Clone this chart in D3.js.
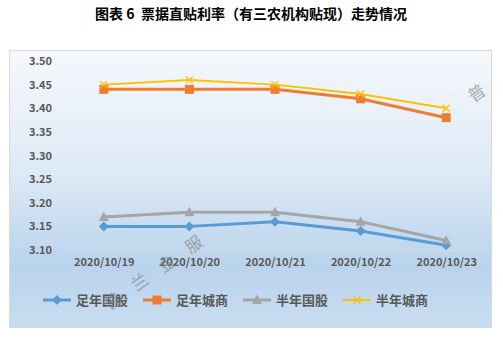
<!DOCTYPE html>
<html>
<head>
<meta charset="utf-8">
<script src="https://cdn.jsdelivr.net/npm/d3@7/dist/d3.min.js"></script>
<style>
  html, body { margin: 0; padding: 0; background: #fff; }
  svg { display: block; }
  text { font-family: "Noto Sans CJK SC", "Open Sans", sans-serif; }
</style>
</head>
<body>
<svg id="chart" width="503" height="340"></svg>
<script>
// Trading dates and discount rates (%) for each series
const dates = ["2020/10/19", "2020/10/20", "2020/10/21", "2020/10/22", "2020/10/23"];
const seriesNames = ["足年国股", "足年城商", "半年国股", "半年城商"];
const fullYearStateBank = [3.15, 3.15, 3.16, 3.14, 3.11];
const fullYearCityBank  = [3.44, 3.44, 3.44, 3.42, 3.38];
const halfYearStateBank = [3.17, 3.18, 3.18, 3.16, 3.12];
const halfYearCityBank  = [3.45, 3.46, 3.45, 3.43, 3.40];
const yTicks = [3.10, 3.15, 3.20, 3.25, 3.30, 3.35, 3.40, 3.45, 3.50];

const titleText = "图表 6  票据直贴利率（有三农机构贴现）走势情况";
const watermarkChars = ["普", "兰", "金", "服"];

const series = [
  { name: seriesNames[0], values: fullYearStateBank, color: "#5b9bd5", width: 3, marker: "diamond" },
  { name: seriesNames[1], values: fullYearCityBank,  color: "#ed7d31", width: 3, marker: "square" },
  { name: seriesNames[2], values: halfYearStateBank, color: "#a5a5a5", width: 3, marker: "triangle" },
  { name: seriesNames[3], values: halfYearCityBank,  color: "#ffc000", width: 2, marker: "cross" }
];

const svg = d3.select("#chart");

// Background gradient of the chart panel
const defs = svg.append("defs");
const grad = defs.append("linearGradient")
  .attr("id", "panelGrad").attr("x1", 0).attr("y1", 0).attr("x2", 0).attr("y2", 1);
grad.append("stop").attr("offset", "0%").attr("stop-color", "#f5f8fc");
grad.append("stop").attr("offset", "45%").attr("stop-color", "#dde9f6");
grad.append("stop").attr("offset", "78%").attr("stop-color", "#b8d3ec");
grad.append("stop").attr("offset", "100%").attr("stop-color", "#c9ddf1");

// Title
svg.append("text")
  .attr("x", 251).attr("y", 18.5)
  .attr("text-anchor", "middle")
  .attr("font-size", 14).attr("font-weight", "bold")
  .attr("fill", "#000")
  .style("white-space", "pre")
  .text(titleText);

// Chart panel
svg.append("rect")
  .attr("x", 9.5).attr("y", 50.5).attr("width", 482).attr("height", 277)
  .attr("fill", "url(#panelGrad)")
  .attr("stroke", "#d9d9d9").attr("stroke-width", 1);

// Scales
const x = d3.scalePoint().domain(dates).range([61, 489]).padding(0.5);
const y = d3.scaleLinear().domain([3.10, 3.50]).range([250, 61]);

// Y axis labels
const yAxis = d3.axisLeft(y).tickValues(yTicks).tickFormat(d3.format(".2f")).tickSize(0).tickPadding(0);
const yg = svg.append("g").attr("transform", "translate(52,0)").call(yAxis);
yg.select(".domain").remove();
yg.selectAll("text")
  .attr("font-size", 11).attr("font-weight", "bold").attr("fill", "#595959")
  .attr("font-family", "'Open Sans', 'DejaVu Sans', sans-serif");

// Category axis line
svg.append("line")
  .attr("x1", 62).attr("x2", 490)
  .attr("y1", y(3.10)).attr("y2", y(3.10))
  .attr("stroke", "#d9d9d9").attr("stroke-width", 1);

// X axis labels
const xAxis = d3.axisBottom(x).tickSize(0).tickPadding(0);
const xg = svg.append("g").attr("transform", `translate(0,${y(3.10) + 8})`).call(xAxis);
xg.select(".domain").remove();
xg.selectAll("text")
  .attr("font-size", 11).attr("font-weight", "bold").attr("fill", "#595959")
  .attr("font-family", "'Open Sans', 'DejaVu Sans', sans-serif");

// Marker drawing
function drawMarker(g, type, cx, cy, color, scale) {
  const s = scale || 1;
  if (type === "diamond") {
    const r = 5 * s;
    g.append("path").attr("d", `M${cx},${cy - r}L${cx + r},${cy}L${cx},${cy + r}L${cx - r},${cy}Z`)
      .attr("fill", color);
  } else if (type === "square") {
    const h = 4.5 * s;
    g.append("rect").attr("x", cx - h).attr("y", cy - h).attr("width", 2 * h).attr("height", 2 * h)
      .attr("fill", color);
  } else if (type === "triangle") {
    const h = 5 * s;
    g.append("path").attr("d", `M${cx},${cy - h * 1.1}L${cx + h},${cy + h * 0.8}L${cx - h},${cy + h * 0.8}Z`)
      .attr("fill", color);
  } else if (type === "cross") {
    const h = 3.5 * s;
    g.append("path").attr("d", `M${cx - h},${cy - h}L${cx + h},${cy + h}M${cx - h},${cy + h}L${cx + h},${cy - h}`)
      .attr("stroke", color).attr("stroke-width", 1.3).attr("fill", "none");
  }
}

// Series lines and markers
const line = d3.line().x((d, i) => x(dates[i])).y(d => y(d));
series.forEach(s => {
  const g = svg.append("g");
  g.append("path").datum(s.values)
    .attr("d", line)
    .attr("fill", "none").attr("stroke", s.color).attr("stroke-width", s.width)
    .attr("stroke-linejoin", "round");
  s.values.forEach((v, i) => drawMarker(g, s.marker, x(dates[i]), y(v), s.color));
});

// Legend
const legendX = [43, 143, 243, 343];
const legendY = 300;
series.forEach((s, i) => {
  const g = svg.append("g");
  g.append("line")
    .attr("x1", legendX[i]).attr("x2", legendX[i] + 28)
    .attr("y1", legendY).attr("y2", legendY)
    .attr("stroke", s.color).attr("stroke-width", s.width);
  drawMarker(g, s.marker, legendX[i] + 14, legendY, s.color);
  g.append("text")
    .attr("x", legendX[i] + 33).attr("y", legendY + 5)
    .attr("font-size", 13).attr("font-weight", "bold").attr("fill", "#595959")
    .text(s.name);
});

// Diagonal watermark, one glyph at a time along a slanted line
function watermark(chars, x0, y0, step, angle) {
  const rad = angle * Math.PI / 180;
  const g = svg.append("g").attr("fill", "#7f7f7f").attr("opacity", 0.6)
    .attr("font-size", 17);
  chars.forEach((c, i) => {
    const cx = x0 + i * step * Math.cos(rad);
    const cy = y0 + i * step * Math.sin(rad);
    g.append("text")
      .attr("transform", `translate(${cx},${cy}) rotate(${angle})`)
      .attr("text-anchor", "middle").attr("dominant-baseline", "central")
      .text(c);
  });
}
watermark(watermarkChars, 112, 300, 33, -35);
watermark(watermarkChars.slice(0, 1), 476, 92, 33, -35);
</script>
</body>
</html>
